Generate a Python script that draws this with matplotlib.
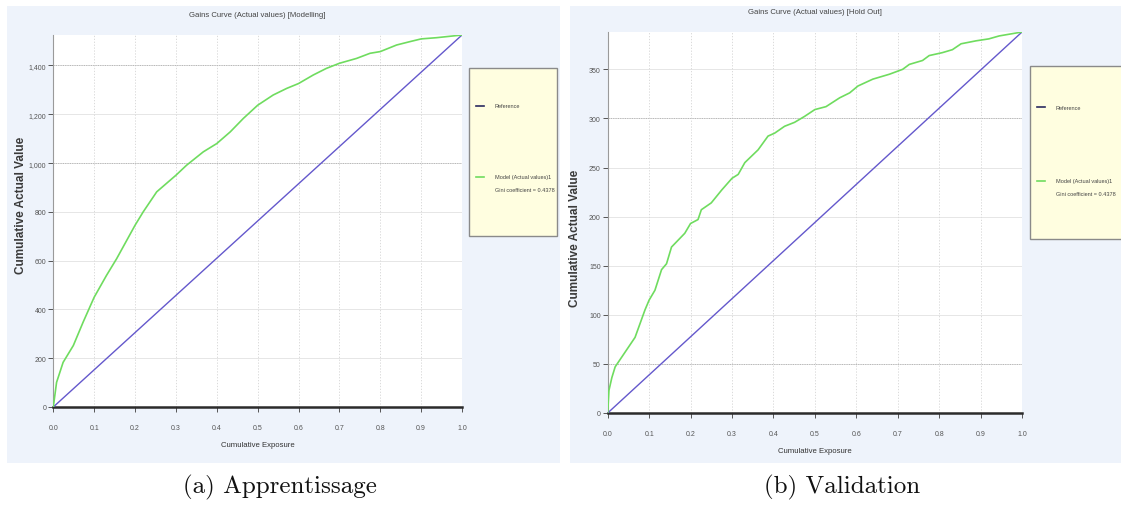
import matplotlib
matplotlib.use("Agg")
import matplotlib.pyplot as plt
from matplotlib.patches import Rectangle
from matplotlib.lines import Line2D
from matplotlib.ticker import FuncFormatter

# ---- data -------------------------------------------------------------
train_x = [0, 0.008, 0.024, 0.049, 0.073, 0.1, 0.13, 0.155, 0.2, 0.22, 0.253,
           0.3, 0.326, 0.367, 0.4, 0.433, 0.465, 0.5, 0.538, 0.571, 0.6, 0.636,
           0.668, 0.7, 0.742, 0.775, 0.8, 0.84, 0.873, 0.9, 0.938, 1.0]
train_y = [0, 101, 183, 252, 348, 450, 539, 608, 745, 800, 882,
           950, 991, 1046, 1080, 1128, 1183, 1237, 1279, 1306, 1326, 1361,
           1388, 1409, 1429, 1450, 1457, 1484, 1498, 1509, 1514, 1525]

val_x = [0, 0.003, 0.01, 0.018, 0.034, 0.05, 0.066, 0.078, 0.09, 0.1, 0.114,
         0.13, 0.142, 0.154, 0.17, 0.186, 0.2, 0.218, 0.226, 0.25, 0.275, 0.3,
         0.315, 0.331, 0.363, 0.387, 0.403, 0.427, 0.451, 0.475, 0.5, 0.527,
         0.56, 0.584, 0.604, 0.64, 0.68, 0.712, 0.728, 0.76, 0.776, 0.808,
         0.832, 0.853, 0.889, 0.92, 0.945, 1.0]
val_y = [0, 23, 36, 47, 57, 67, 77, 91, 105, 115, 125,
         146, 152, 169, 176, 183, 193, 197, 207, 214, 227, 239,
         243, 255, 268, 282, 285, 292, 296, 302, 309, 312,
         321, 326, 333, 340, 345, 350, 355, 359, 364, 367,
         370, 376, 379, 381, 384, 388]

ref_x = [0.0, 1.0]

train_yticks = [0, 200, 400, 600, 800, 1000, 1200, 1400]
val_yticks = [0, 50, 100, 150, 200, 250, 300, 350]
xticks = [0.0, 0.1, 0.2, 0.3, 0.4, 0.5, 0.6, 0.7, 0.8, 0.9, 1.0]

# horizontal grid lines drawn with a heavier dotted pattern
train_strong = [1000, 1400]
val_strong = [50, 300]

titles = ["Gains Curve (Actual values) [Modelling]",
          "Gains Curve (Actual values) [Hold Out]"]
captions = ["(a) Apprentissage", "(b) Validation"]
legend_ref = "Reference"
legend_model = "Model (Actual values)1"
legend_gini = "Gini coefficient = 0.4378"

# ---- styling ----------------------------------------------------------
W, H = 1121, 506
PANEL_BG = "#eef3fb"
GREEN = "#6fdc5f"
BLUE = "#6458cc"
TXT = "#444444"
FONT = "Liberation Sans"

fig = plt.figure(figsize=(W / 100, H / 100), dpi=100)
fig.patch.set_facecolor("white")


def fx(px):
    return px / W


def fy(py):
    return 1 - py / H


def panel(x0, x1, y0, y1):
    fig.add_artist(Rectangle((fx(x0), fy(y1)), fx(x1) - fx(x0), fy(y0) - fy(y1),
                             transform=fig.transFigure, facecolor=PANEL_BG,
                             edgecolor="none", zorder=0))


def legend_box(x0, x1, y0, y1, y_ref, y_model, y_gini):
    fig.add_artist(Rectangle((fx(x0), fy(y1)), fx(x1) - fx(x0), fy(y0) - fy(y1),
                             transform=fig.transFigure, facecolor="#fffee0",
                             edgecolor="#8a8a8a", linewidth=1.0, zorder=2))
    lx0, lx1, tx = x0 + 7, x0 + 15, x0 + 26
    fig.add_artist(Line2D([fx(lx0), fx(lx1)], [fy(y_ref), fy(y_ref)],
                          transform=fig.transFigure, color="#2a2a60", lw=1.2, zorder=3))
    fig.add_artist(Line2D([fx(lx0), fx(lx1)], [fy(y_model), fy(y_model)],
                          transform=fig.transFigure, color=GREEN, lw=1.2, zorder=3))
    kw = dict(fontsize=4.0, color=TXT, va="center", ha="left", family=FONT, zorder=3)
    fig.text(fx(tx), fy(y_ref), legend_ref, **kw)
    fig.text(fx(tx), fy(y_model), legend_model, **kw)
    fig.text(fx(tx), fy(y_gini), legend_gini, **kw)


def style_axes(ax, xs, ys, total, yticks, strong, yfmt, title, ylabel_xy):
    ax.set_facecolor("white")
    ax.plot(ref_x, [0, total], color=BLUE, lw=1.0, zorder=3)
    ax.plot(xs, ys, color=GREEN, lw=1.2, zorder=4)
    ax.set_xlim(0, 1)
    ax.set_ylim(0, total)
    ax.set_xticks(xticks)
    ax.set_yticks(yticks)
    ax.xaxis.set_major_formatter(FuncFormatter(lambda v, p: f"{v:.1f}"))
    ax.yaxis.set_major_formatter(FuncFormatter(yfmt))
    ax.grid(True, axis="x", color="#d4d4d4", linestyle=(0, (1.5, 2)), linewidth=0.6)
    ax.grid(True, axis="y", color="#dcdcdc", linestyle="-", linewidth=0.5)
    for v in strong:
        ax.axhline(v, color="#b8b8b8", linestyle=(0, (1.2, 1.2)), linewidth=0.7, zorder=1)
    for side in ("top", "right"):
        ax.spines[side].set_visible(False)
    ax.spines["left"].set_color("#9a9a9a")
    ax.spines["left"].set_linewidth(0.8)
    ax.spines["bottom"].set_color("#2b2b2b")
    ax.spines["bottom"].set_linewidth(1.8)
    ax.tick_params(axis="x", length=3.5, width=0.7, color="#555555", pad=9,
                   labelsize=5, labelcolor="#555555")
    ax.tick_params(axis="y", length=3.5, width=0.7, color="#555555", pad=1.5,
                   labelsize=5, labelcolor="#555555")
    for lab in ax.get_xticklabels() + ax.get_yticklabels():
        lab.set_family(FONT)
    ax.set_xlabel("Cumulative Exposure", fontsize=5.6, color="#333333",
                  family=FONT, labelpad=7)
    ax.set_title(title, fontsize=5.6, color=TXT, family=FONT, pad=14)
    ax.set_ylabel("Cumulative Actual Value", fontsize=8.5, fontweight="bold",
                  color="#3a3a3a", family=FONT)
    ax.yaxis.set_label_coords(*ylabel_xy, transform=fig.transFigure)
    ax.set_axisbelow(True)


# panels
panel(7, 560, 7, 464)
panel(570, 1121, 7, 464)

# left: modelling sample
axL = fig.add_axes([fx(53.3), fy(408), fx(462) - fx(53.3), fy(36) - fy(408)])
style_axes(axL, train_x, train_y, train_y[-1], train_yticks, train_strong,
           lambda v, p: f"{int(v):,}", titles[0], (fx(27), fy(205)))

# right: hold-out sample
axR = fig.add_axes([fx(607.7), fy(414), fx(1022) - fx(607.7), fy(33) - fy(414)])
style_axes(axR, val_x, val_y, val_y[-1], val_yticks, val_strong,
           lambda v, p: f"{int(v)}", titles[1], (fx(581), fy(238)))

legend_box(469, 557, 69, 237, 107, 178, 190)
legend_box(1030, 1125, 67, 240, 108, 182, 194)

# sub-figure captions
fig.text(fx(280), fy(487), captions[0], fontsize=18, family="cmr10",
         ha="center", va="center", color="#111111")
fig.text(fx(842), fy(487), captions[1], fontsize=18, family="cmr10",
         ha="center", va="center", color="#111111")

fig.savefig("out.png", dpi=100, facecolor="white")
